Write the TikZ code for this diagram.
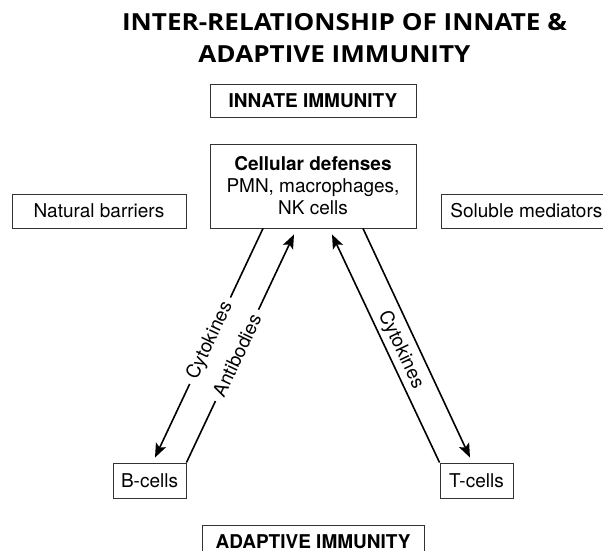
\documentclass[tikz,border=0pt]{standalone}
\usepackage{fontspec}
\setmainfont{TeX Gyre Heros}
\newfontfamily\headfont{Open Sans}[FakeStretch=1.11]
\usetikzlibrary{arrows.meta,positioning,calc}
\tikzset{
    immunebox/.style={draw=black!80, line width=0.9pt, inner sep=0pt, align=center, font=\fontsize{19}{22}\selectfont, minimum height=34pt},
    immunehead/.style={immunebox, font=\fontsize{19}{22}\selectfont\bfseries},
    immunearrow/.style={-{Stealth[length=14pt, width=11pt, inset=3pt]}, line width=1.6pt},
    immunelabel/.style={font=\fontsize{19}{22}\selectfont, sloped, inner xsep=6pt, inner ysep=2pt},
    titleline/.style={anchor=base, font=\headfont\bfseries\fontsize{23.5}{27}\selectfont}
}

\begin{document}
\begin{tikzpicture}[x=1pt, y=-1pt]
    \useasboundingbox (0,0) rectangle (603,551);
    % heading
    \node[titleline] (title1) at (344.5,31) {INTER-RELATIONSHIP OF INNATE \&};
    \node[titleline] (title2) at (334.5,63) {ADAPTIVE IMMUNITY};
    % innate side
    \node[immunehead, minimum width=206pt, minimum height=33pt] (innate) at (313,100.5) {INNATE IMMUNITY};
    \node[immunebox, minimum width=206pt, minimum height=84pt] (cellular) at (313,186) {\textbf{Cellular defenses}\\PMN, macrophages,\\NK cells};
    \node[immunebox, minimum width=174pt] (barriers) at (99,211) {Natural barriers};
    \node[immunebox, minimum width=170pt, anchor=west] (soluble) at (441,211) {Soluble mediators};
    % adaptive side
    \node[immunebox, minimum width=73pt, minimum height=35pt] (bcells) at (149.5,480.5) {B-cells};
    \node[immunebox, minimum width=73pt, minimum height=35pt] (tcells) at (476.5,480.5) {T-cells};
    \node[immunehead, minimum width=222pt] (adaptive) at (313,542) {ADAPTIVE IMMUNITY};
    % links
    \draw[immunearrow] ([xshift=-50pt]cellular.south) -- node[immunelabel, fill=white, pos=0.49] {Cytokines} ([xshift=5.5pt, yshift=5pt]bcells.north);
    \draw[immunearrow] (bcells.north east) -- node[immunelabel, fill=white, pos=0.47] {Antibodies} ([xshift=-19pt, yshift=-6pt]cellular.south);
    \draw[immunearrow] (tcells.north west) -- node[immunelabel, above=1pt, pos=0.47] {Cytokines} ([xshift=19pt, yshift=-6pt]cellular.south);
    \draw[immunearrow] ([xshift=50pt]cellular.south) -- ([xshift=-6.5pt, yshift=5pt]tcells.north);
\end{tikzpicture}
\end{document}
